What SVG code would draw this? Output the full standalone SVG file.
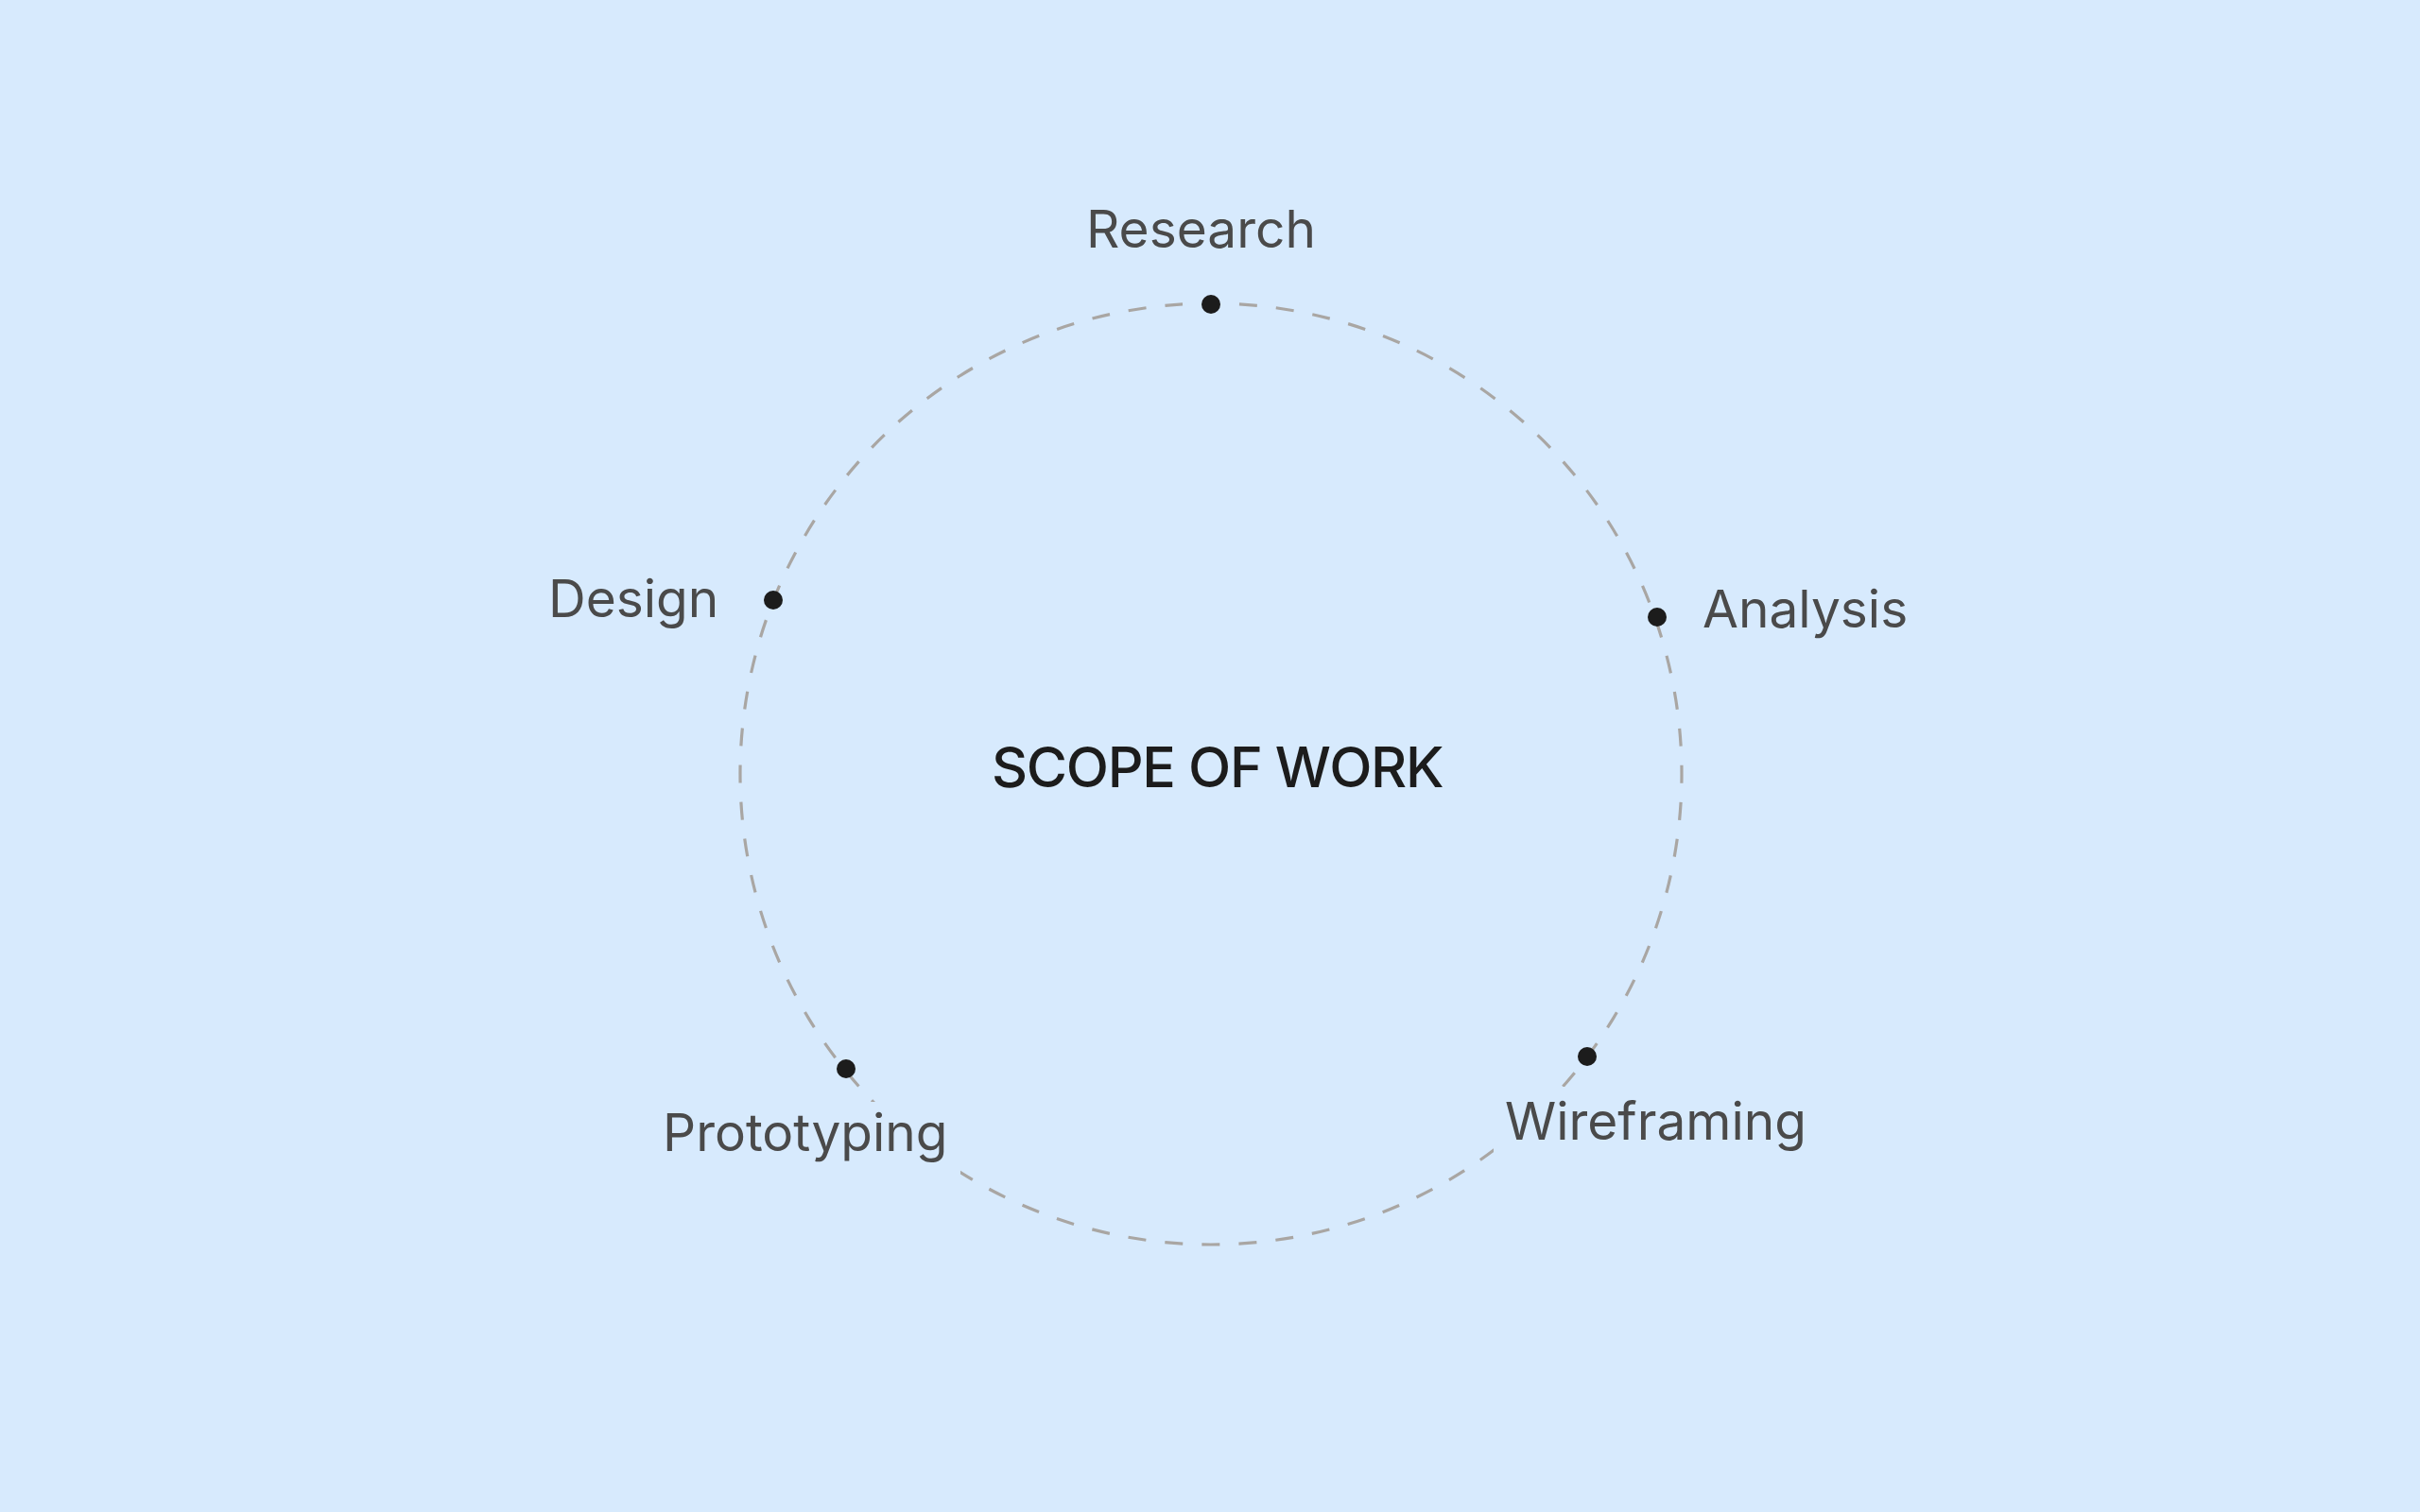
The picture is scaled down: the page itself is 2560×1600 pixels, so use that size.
<svg xmlns="http://www.w3.org/2000/svg" width="2560" height="1600" viewBox="0 0 2560 1600">
  <style>
    .label { font-family: Inter, "Noto Sans", "Liberation Sans", sans-serif; font-size: 55px; font-weight: 400; fill: #4a4a4a; }
    .title { font-family: Inter, "Noto Sans", "Liberation Sans", sans-serif; font-size: 59px; font-weight: 500; fill: #1c1c1c; letter-spacing: -1.3px; }
    .dot { fill: #1c1c1c; }
    .mask { fill: #d7eafd; }
    .ring { fill: none; stroke: #a9a6a3; stroke-width: 3.2; stroke-dasharray: 19 20.1; }
  </style>
  <rect x="0" y="0" width="2560" height="1600" fill="#d7eafd"/>
  <g id="connectors">
    <path class="ring" d="M 1310.98 321.9 A 498 498 0 1 1 1251.02 321.9"/>
  </g>
  <g id="center">
    <text class="title" x="1049" y="833">SCOPE OF WORK</text>
  </g>
  <g id="research">
    <circle class="dot" cx="1281" cy="322" r="10"/>
    <text class="label" x="1149" y="262">Research</text>
  </g>
  <g id="analysis">
    <circle class="dot" cx="1753" cy="653" r="10"/>
    <text class="label" x="1801" y="664">Analysis</text>
  </g>
  <g id="wireframing">
    <rect class="mask" x="1580" y="1150" width="335" height="90"/>
    <circle class="dot" cx="1679" cy="1118" r="10"/>
    <text class="label" x="1592" y="1206">Wireframing</text>
  </g>
  <g id="prototyping">
    <rect class="mask" x="690" y="1166" width="326" height="88"/>
    <circle class="dot" cx="895" cy="1131" r="10"/>
    <text class="label" x="701" y="1218">Prototyping</text>
  </g>
  <g id="design">
    <circle class="dot" cx="818" cy="635" r="10"/>
    <text class="label" x="580" y="653">Design</text>
  </g>
</svg>
